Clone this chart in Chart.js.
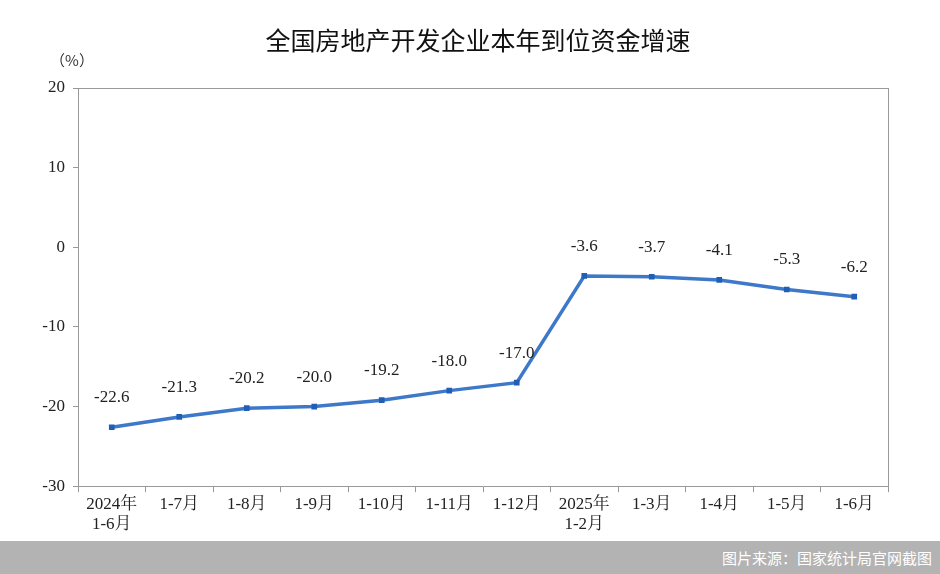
<!DOCTYPE html>
<html><head><meta charset="utf-8">
<script src="https://cdn.jsdelivr.net/npm/chart.js@4.4.0/dist/chart.umd.min.js"></script>
<style>
html,body{margin:0;padding:0;background:#fff;width:940px;height:574px;overflow:hidden}
#wrap{position:relative;width:940px;height:541px}
#bar{height:33px;background:#b3b3b3;color:#fff;font:15px "Noto Sans CJK SC";text-align:right;line-height:33px;padding-right:8px}
</style></head><body>
<div id="wrap"><canvas id="c"></canvas></div>
<div id="bar">图片来源：国家统计局官网截图</div>
<script>
const categories = [['2024年','1-6月'],'1-7月','1-8月','1-9月','1-10月','1-11月','1-12月',['2025年','1-2月'],'1-3月','1-4月','1-5月','1-6月'];
const growth = [-22.6,-21.3,-20.2,-20.0,-19.2,-18.0,-17.0,-3.6,-3.7,-4.1,-5.3,-6.2];
const yTicks = [20,10,0,-10,-20,-30];
const SERIF = '"Liberation Serif", "Noto Serif CJK SC", "Noto Sans CJK SC", serif';

const labelPlugin = {
  id: 'labels',
  afterDatasetsDraw(chart) {
    const ctx = chart.ctx;
    const meta = chart.getDatasetMeta(0);
    const a = chart.chartArea;
    ctx.save();
    // top border of the plot box
    ctx.strokeStyle = '#999';
    ctx.lineWidth = 1;
    ctx.beginPath();
    ctx.moveTo(a.left, a.top + 0.5);
    ctx.lineTo(a.right, a.top + 0.5);
    ctx.stroke();
    ctx.font = '17px ' + SERIF;
    ctx.fillStyle = '#222';
    ctx.textAlign = 'center';
    ctx.textBaseline = 'bottom';
    meta.data.forEach((p, i) => {
      ctx.fillText(growth[i].toFixed(1), p.x, p.y - 21);
    });
    ctx.font = '25px "Noto Sans CJK SC"';
    ctx.textBaseline = 'middle';
    ctx.fillStyle = '#111';
    ctx.fillText('全国房地产开发企业本年到位资金增速', 478, 40);
    ctx.font = '15px "Noto Sans CJK SC"';
    ctx.fillStyle = '#333';
    ctx.fillText('（%）', 72, 60);
    ctx.restore();
  }
};

new Chart(document.getElementById('c'), {
  type: 'line',
  data: {
    labels: categories,
    datasets: [{
      data: growth,
      borderColor: '#3d79c8',
      backgroundColor: '#1f5fb8',
      borderWidth: 3.5,
      pointStyle: 'rect',
      pointRadius: 4,
      pointBorderWidth: 0,
      tension: 0,
    }],
  },
  options: {
    responsive: true,
    maintainAspectRatio: false,
    animation: false,
    layout: { padding: { top: 88, left: 0, right: 52, bottom: 4 } },
    plugins: { legend: { display: false }, tooltip: { enabled: false } },
    scales: {
      x: {
        offset: true,
        grid: { display: true, drawOnChartArea: false, offset: true, tickLength: 6, color: '#999' },
        border: { color: '#999' },
        ticks: { color: '#222', font: { family: SERIF, size: 17 }, maxRotation: 0, autoSkip: false, padding: 2 },
      },
      y: {
        min: -30, max: 20,
        afterBuildTicks: ax => { ax.ticks = yTicks.map(v => ({ value: v })); },
        grid: { display: true, drawOnChartArea: false, tickLength: 5, color: '#999' },
        border: { color: '#999' },
        ticks: { color: '#222', font: { family: SERIF, size: 17 }, padding: 8 },
        afterFit: ax => { ax.width = 78; },
      },
      y2: { position: 'right', display: true, grid: { display: false }, ticks: { display: false }, border: { color: '#999' }, afterFit: ax => { ax.width = 0; } },
    },
  },
  plugins: [labelPlugin],
});
</script>
</body></html>
